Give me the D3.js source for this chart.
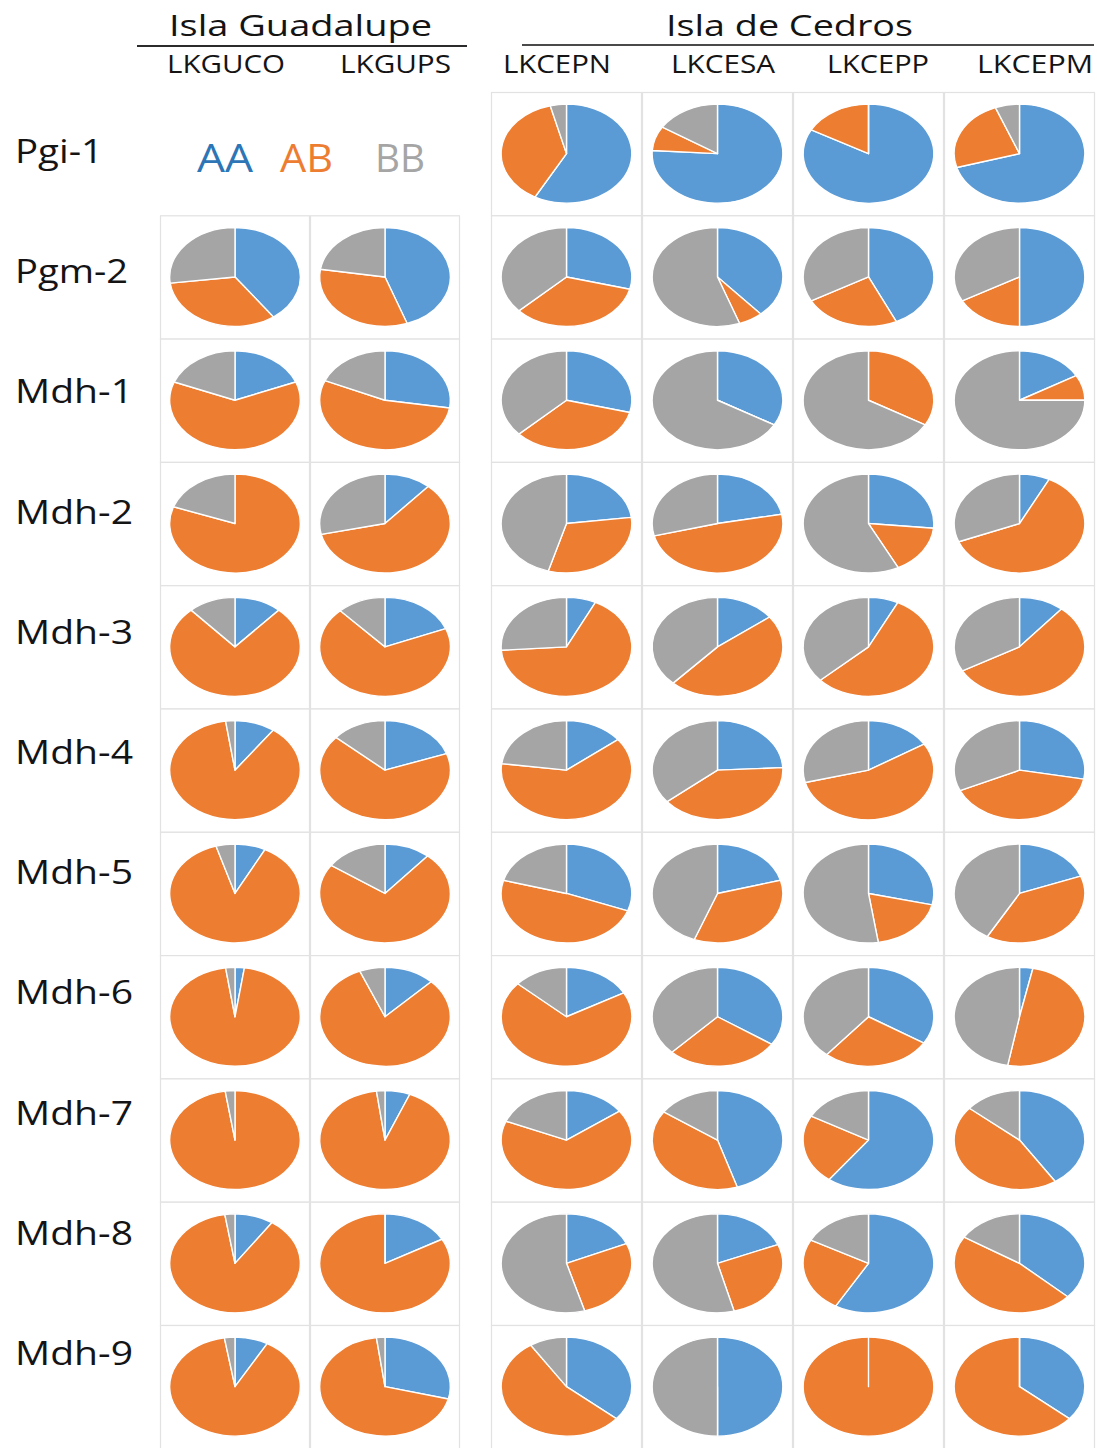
<!DOCTYPE html>
<html>
<head>
<meta charset="utf-8">
<script src="https://cdn.jsdelivr.net/npm/d3@7"></script>
<style>
  html, body { margin: 0; padding: 0; background: #ffffff; }
  svg { display: block; }
  text { font-family: "Open Sans", "Noto Sans", sans-serif; }
</style>
</head>
<body>
<svg id="chart" width="1097" height="1448"></svg>
<script>
// Loci (rows) and sampled populations (columns), grouped by island
const loci = ["Pgi-1", "Pgm-2", "Mdh-1", "Mdh-2", "Mdh-3", "Mdh-4", "Mdh-5", "Mdh-6", "Mdh-7", "Mdh-8", "Mdh-9"];
const guadalupePops = ["LKGUCO", "LKGUPS"];
const cedrosPops = ["LKCEPN", "LKCESA", "LKCEPP", "LKCEPM"];
const islands = ["Isla Guadalupe", "Isla de Cedros"];
const genotypes = ["AA", "AB", "BB"];

// Genotype frequencies per population, one [AA, AB, BB] entry per locus (null = not typed)
const LKGUCO = [null,
  [0.40, 0.33, 0.27], [0.19, 0.62, 0.19], [0.00, 0.805, 0.195], [0.117, 0.766, 0.117],
  [0.10, 0.877, 0.023], [0.076, 0.877, 0.047], [0.023, 0.954, 0.023], [0.00, 0.976, 0.024],
  [0.096, 0.879, 0.025], [0.082, 0.892, 0.026]];
const LKGUPS = [null,
  [0.445, 0.33, 0.225], [0.275, 0.54, 0.185], [0.115, 0.60, 0.285], [0.19, 0.69, 0.12],
  [0.196, 0.669, 0.135], [0.113, 0.733, 0.154], [0.125, 0.812, 0.063], [0.062, 0.917, 0.021],
  [0.169, 0.831, 0.00], [0.29, 0.689, 0.021]];
const LKCEPN = [[0.58, 0.38, 0.04],
  [0.29, 0.34, 0.37], [0.29, 0.34, 0.37], [0.23, 0.315, 0.455], [0.073, 0.666, 0.261],
  [0.144, 0.627, 0.229], [0.307, 0.486, 0.207], [0.17, 0.696, 0.134], [0.151, 0.661, 0.188],
  [0.185, 0.27, 0.545], [0.362, 0.546, 0.092]];
const LKCESA = [[0.76, 0.08, 0.16],
  [0.385, 0.06, 0.555], [0.333, 0.00, 0.667], [0.22, 0.49, 0.29], [0.147, 0.472, 0.381],
  [0.242, 0.398, 0.36], [0.207, 0.351, 0.442], [0.344, 0.279, 0.377], [0.451, 0.395, 0.154],
  [0.188, 0.271, 0.541], [0.50, 0.00, 0.50]];
const LKCEPP = [[0.83, 0.17, 0.00],
  [0.43, 0.24, 0.33], [0.00, 0.333, 0.667], [0.265, 0.16, 0.575], [0.074, 0.558, 0.368],
  [0.162, 0.548, 0.29], [0.287, 0.189, 0.524], [0.339, 0.272, 0.389], [0.603, 0.227, 0.17],
  [0.584, 0.244, 0.172], [0.00, 1.00, 0.00]];
const LKCEPM = [[0.705, 0.235, 0.06],
  [0.50, 0.17, 0.33], [0.167, 0.083, 0.75], [0.075, 0.615, 0.31], [0.111, 0.558, 0.331],
  [0.279, 0.403, 0.318], [0.193, 0.389, 0.418], [0.033, 0.496, 0.471], [0.408, 0.453, 0.139],
  [0.368, 0.471, 0.161], [0.362, 0.638, 0.00]];

const freqByPop = { LKGUCO, LKGUPS, LKCEPN, LKCESA, LKCEPP, LKCEPM };

// Styling
const sliceColors = ["#5B9BD5", "#ED7D31", "#A5A5A5"];
const legendColors = ["#2E75B6", "#ED7D31", "#A5A5A5"];
const textColor = "#141414";
const cellStroke = "#e2e2e2";

const svg = d3.select("#chart");

// Grid scales: rows shared by both islands, columns banded per island
const rowH = 123.3;
const y = d3.scaleBand().domain(loci).range([92, 92 + rowH * loci.length]).paddingInner(0);
const xGua = d3.scaleBand().domain(guadalupePops).range([160, 460]);
const xCed = d3.scaleBand().domain(cedrosPops).range([491, 1095]);
const colScale = p => guadalupePops.includes(p) ? xGua : xCed;

const pieRy = 49.5;
const stretchX = 1.32;
const pie = d3.pie().sort(null).value(d => d).startAngle(0).endAngle(2 * Math.PI);
const arc = d3.arc().innerRadius(0).outerRadius(pieRy);

const allPops = guadalupePops.concat(cedrosPops);

// Cells and pies
const gCells = svg.append("g");
allPops.forEach(pop => {
  const xs = colScale(pop);
  loci.forEach((locus, i) => {
    const vals = freqByPop[pop][i];
    if (!vals) return;
    const cx = xs(pop), cy = y(locus);
    gCells.append("rect")
      .attr("x", cx + 0.5).attr("y", cy + 0.5)
      .attr("width", xs.bandwidth() - 1).attr("height", y.bandwidth())
      .attr("fill", "#ffffff")
      .attr("stroke", cellStroke).attr("stroke-width", 1.2);
    const g = gCells.append("g")
      .attr("transform", `translate(${cx + xs.bandwidth() / 2},${cy + y.bandwidth() / 2}) scale(${stretchX},1)`);
    g.selectAll("path")
      .data(pie(vals))
      .join("path")
      .attr("d", arc)
      .attr("fill", (d, k) => sliceColors[k])
      .attr("stroke", "#ffffff")
      .attr("stroke-width", 1.4)
      .attr("stroke-linejoin", "round")
      .attr("vector-effect", "non-scaling-stroke");
  });
});

// Stretched text helper
function label(sel, txt, x, base, size, width, color) {
  sel.append("text")
    .attr("x", x).attr("y", base)
    .attr("font-size", size)
    .attr("fill", color || textColor)
    .attr("textLength", width)
    .attr("lengthAdjust", "spacingAndGlyphs")
    .text(txt);
}

const gText = svg.append("g");

// Island headers with underline rules
const islandSpecs = [
  { x: 169, w: 263, line: [137, 467, 46], stroke: "#2b2b2b" },
  { x: 666, w: 247, line: [522, 1094, 45], stroke: "#4a4a4a" }
];
islands.forEach((name, i) => {
  const s = islandSpecs[i];
  label(gText, name, s.x, 36, 30, s.w);
  gText.append("line")
    .attr("x1", s.line[0]).attr("x2", s.line[1])
    .attr("y1", s.line[2]).attr("y2", s.line[2])
    .attr("stroke", s.stroke).attr("stroke-width", 1.8);
});

// Population column headers
const popLabelX = { LKGUCO: [167, 118], LKGUPS: [340, 111], LKCEPN: [503, 108], LKCESA: [671, 104], LKCEPP: [827, 102], LKCEPM: [977, 116] };
allPops.forEach(p => label(gText, p, popLabelX[p][0], 73, 26, popLabelX[p][1]));

// Locus row labels
const rowLabelW = l => l.startsWith("Pgi") ? 88 : (l.startsWith("Pgm") ? 113 : 118);
loci.forEach((l, i) => label(gText, l, 15, 163 + 120.2 * i, 32, rowLabelW(l)));

// Genotype legend
const legendSpecs = [[197, 56], [280, 53], [375, 50]];
genotypes.forEach((gt, i) => label(gText, gt, legendSpecs[i][0], 172, 39, legendSpecs[i][1], legendColors[i]));
</script>
</body>
</html>
